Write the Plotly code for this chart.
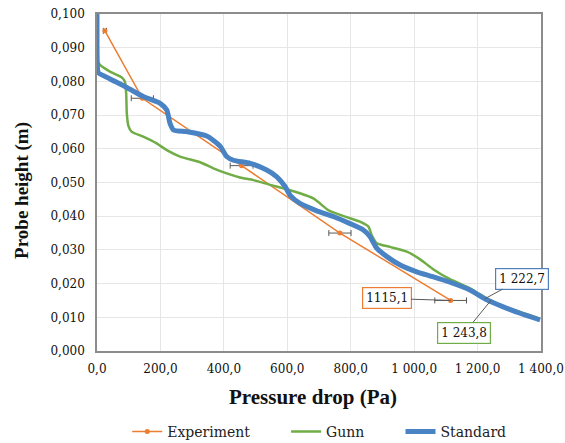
import plotly.graph_objects as go

# ---- data ----
exp_p = [25, 143, 456, 766, 1115.1]
exp_h = [0.095, 0.075, 0.055, 0.035, 0.015]
exp_err = [5, 35, 36, 35, 50]

gunn_p = [0, 0, 1, 10, 41, 78, 88, 92, 94, 99, 109, 146, 188, 220, 262, 325, 367, 409, 451, 493,
          546, 598, 640, 682, 703, 729, 766, 798, 829, 856, 866, 882, 924, 977, 1019, 1061, 1113,
          1176, 1229, 1281, 1334, 1397]
gunn_h = [0.100, 0.090, 0.0863, 0.0848, 0.0829, 0.0812, 0.0799, 0.0764, 0.0705, 0.0668, 0.0651,
          0.0636, 0.0616, 0.0596, 0.0577, 0.0560, 0.0542, 0.0527, 0.0515, 0.0507, 0.0493, 0.0480,
          0.0468, 0.0453, 0.0438, 0.0418, 0.0404, 0.0394, 0.0384, 0.0369, 0.0344, 0.0320, 0.0309,
          0.0295, 0.0272, 0.0242, 0.0213, 0.0186, 0.0156, 0.0131, 0.0116, 0.0096]

std_p = [0, 0, 1, 4, 40, 94, 146, 199, 220, 230, 241, 283, 346, 388, 409, 430, 483, 535, 567, 593,
         609, 640, 693, 745, 798, 840, 861, 882, 914, 956, 1008, 1061, 1113, 1176, 1229, 1281,
         1334, 1397]
std_h = [0.100, 0.090, 0.085, 0.0826, 0.0808, 0.0782, 0.0755, 0.0735, 0.0715, 0.0676, 0.0656,
         0.0651, 0.0638, 0.0608, 0.0577, 0.0566, 0.0557, 0.0537, 0.0517, 0.0488, 0.0462, 0.0438,
         0.0416, 0.0399, 0.0378, 0.0359, 0.0339, 0.0305, 0.0280, 0.0255, 0.0235, 0.0220, 0.0204,
         0.0181, 0.0152, 0.0131, 0.0112, 0.0092]

labels = [
    dict(x=1115.1, y=0.015, text="1115,1", color="#ed7d31", ax=-64, ay=-2),
    dict(x=1222.7, y=0.0155, text="1 222,7", color="#4f81bd", ax=37, ay=-20),
    dict(x=1243.8, y=0.0152, text="1 243,8", color="#70ad47", ax=-27, ay=33),
]

x_ticks = [0, 200, 400, 600, 800, 1000, 1200, 1400]
y_ticks = [0.0, 0.01, 0.02, 0.03, 0.04, 0.05, 0.06, 0.07, 0.08, 0.09, 0.10]

FONT = "Liberation Serif"
SMALL = "DejaVu Serif"
PAD = "\u00a0" * 7

fig = go.Figure()
fig.add_trace(go.Scatter(
    x=exp_p, y=exp_h, name="Experiment" + PAD, mode="lines+markers",
    line=dict(color="#ed7d31", width=1.5),
    marker=dict(color="#ed7d31", size=5),
    error_x=dict(type="data", array=exp_err, color="#595959", thickness=1, width=3),
))
fig.add_trace(go.Scatter(
    x=gunn_p, y=gunn_h, name="Gunn" + PAD, mode="lines",
    line=dict(color="#70ad47", width=2.5, shape="spline", smoothing=0.6),
))
fig.add_trace(go.Scatter(
    x=std_p, y=std_h, name="Standard", mode="lines",
    line=dict(color="#4a83c4", width=5, shape="spline", smoothing=0.6),
))

for lb in labels:
    fig.add_annotation(
        x=lb["x"], y=lb["y"], text=lb["text"], showarrow=True, arrowhead=0,
        arrowwidth=1, arrowcolor="#595959", ax=lb["ax"], ay=lb["ay"],
        bordercolor=lb["color"], borderwidth=1.2, borderpad=3, bgcolor="white",
        font=dict(family=SMALL, size=12, color="#111"),
    )

# axis titles
fig.add_annotation(xref="paper", yref="paper", x=0.486, y=-0.1365, showarrow=False,
                   xanchor="center", yanchor="middle",
                   text="<b>Pressure drop (Pa)</b>",
                   font=dict(family=FONT, size=21, color="#111"))
fig.add_annotation(xref="paper", yref="paper", x=-0.169, y=0.478, showarrow=False,
                   xanchor="center", yanchor="middle",
                   textangle=-90, text="<b>Probe height (m)</b>",
                   font=dict(family=FONT, size=19, color="#111"))

fig.update_xaxes(
    range=[0, 1400], tickvals=x_ticks, tickformat=",.1f", automargin=False,
    showgrid=True, gridcolor="#e6e6e6", gridwidth=1,
    showline=True, linecolor="#8c8c8c", linewidth=1.5, mirror=True,
    zeroline=False, ticks="", ticklabelstandoff=6,
    tickfont=dict(family=SMALL, size=12, color="#111"),
)
fig.update_yaxes(
    range=[0, 0.1], tickvals=y_ticks, tickformat=".3f", automargin=False,
    showgrid=True, gridcolor="#e6e6e6", gridwidth=1,
    showline=True, linecolor="#8c8c8c", linewidth=1.5, mirror=True,
    zeroline=False, ticks="", ticklabelstandoff=8,
    tickfont=dict(family=SMALL, size=12, color="#111"),
)

fig.update_layout(
    width=565, height=443,
    margin=dict(l=97, r=24, t=14, b=92, autoexpand=False),
    separators=", ",
    paper_bgcolor="white", plot_bgcolor="white",
    showlegend=True,
    legend=dict(orientation="h", xref="container", yref="container",
                x=0.565, xanchor="center", y=0.025, yanchor="middle",
                font=dict(family=SMALL, size=14, color="#222"), itemwidth=30),
)

fig.write_html("out.html")
